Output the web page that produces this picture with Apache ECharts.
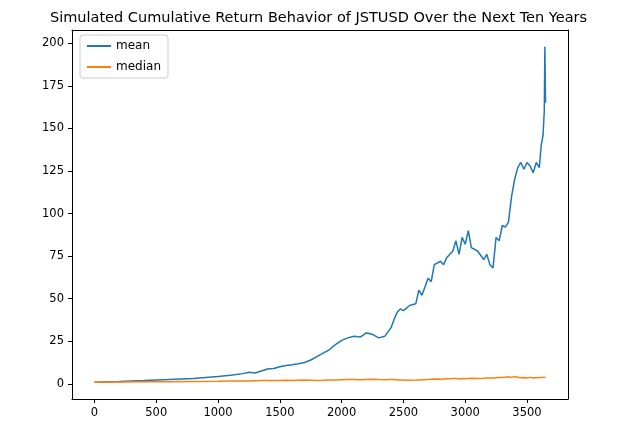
<!DOCTYPE html>
<html>
<head>
<meta charset="utf-8">
<script src="https://cdn.jsdelivr.net/npm/echarts@6/dist/echarts.min.js"></script>
<style>html,body{margin:0;padding:0;background:#fff}#main{width:637px;height:433px}</style>
</head>
<body>
<div id="main"></div>
<script>
// values (day, cumulative return)
var days = [0, 200, 400, 600, 800, 1000, 1100, 1200, 1250, 1300, 1350, 1400, 1450, 1500, 1550, 1600, 1650, 1700, 1750, 1800, 1850, 1900, 1950, 2000, 2050, 2100, 2150, 2200, 2250, 2300, 2350, 2400, 2425, 2450, 2475, 2500, 2550, 2600, 2625, 2650, 2700, 2725, 2750, 2800, 2825, 2850, 2900, 2925, 2950, 2975, 3000, 3025, 3050, 3100, 3150, 3175, 3200, 3225, 3250, 3275, 3300, 3325, 3350, 3375, 3400, 3425, 3450, 3475, 3500, 3525, 3550, 3575, 3600, 3615, 3630, 3640, 3645, 3650];
var meanVals = [1, 1.4, 1.9, 2.5, 3.2, 4.3, 5, 6, 6.8, 6.4, 7.5, 8.7, 9, 10, 10.8, 11.2, 11.8, 12.5, 14, 16, 18, 20, 23, 25.5, 27, 28, 27.5, 30, 29, 27, 28, 33, 38, 42, 44, 43, 46, 47, 55, 52, 62, 60, 70, 72, 70, 74, 78, 84, 76, 86, 82, 90, 80, 78, 73, 76, 70, 68, 86, 84, 93, 92, 95, 110, 120, 127, 130, 126, 130, 128, 124, 130, 127, 140, 146, 160, 198, 165];
var medianVals = [1, 1.1, 1.2, 1.3, 1.4, 1.5, 1.6, 1.6, 1.7, 1.8, 1.9, 1.9, 2.0, 2.0, 2.1, 2.0, 2.1, 2.2, 2.1, 2.0, 2.1, 2.3, 2.2, 2.4, 2.6, 2.5, 2.4, 2.6, 2.7, 2.5, 2.4, 2.6, 2.5, 2.3, 2.2, 2.3, 2.1, 2.2, 2.3, 2.4, 2.6, 2.7, 2.8, 2.7, 2.9, 3.0, 3.1, 3.2, 2.9, 3.1, 3.0, 3.2, 3.3, 3.2, 3.3, 3.4, 3.5, 3.4, 3.6, 3.8, 3.7, 3.9, 4.1, 3.8, 4.3, 3.9, 3.6, 3.7, 3.5, 3.8, 3.4, 3.6, 3.7, 3.6, 3.8, 3.9, 4.0, 3.9];
var xTicks = [0, 500, 1000, 1500, 2000, 2500, 3000, 3500];
var yTicks = [0, 25, 50, 75, 100, 125, 150, 175, 200];

function pairs(vals) {
  var out = [];
  for (var i = 0; i < days.length; i++) out.push([days[i], vals[i]]);
  return out;
}

var chart = echarts.init(document.getElementById('main'));
var font = 'DejaVu Sans';
var xMin = -182, xMax = 3832, yMin = -8.9, yMax = 207.8;
var plain = function (v) { return String(v); };
chart.setOption({
  animation: false,
  title: {
    text: 'Simulated Cumulative Return Behavior of JSTUSD Over the Next Ten Years',
    left: 'center', top: 6,
    textStyle: {fontFamily: font, fontSize: 14.5, fontWeight: 'normal', color: '#000'}
  },
  legend: {
    left: 80, top: 35, orient: 'vertical', itemWidth: 24, itemHeight: 2, itemGap: 9,
    backgroundColor: '#fff', borderColor: '#ccc', borderWidth: 1, borderRadius: 3,
    padding: [5, 7], textStyle: {fontFamily: font, fontSize: 12, color: '#000'},
    data: [{name: 'mean', icon: 'rect'}, {name: 'median', icon: 'rect'}]
  },
  grid: {left: 72, right: 69, top: 30, bottom: 34},
  xAxis: [{
    type: 'value', min: xMin, max: xMax, splitLine: {show: false},
    axisLine: {onZero: false, lineStyle: {color: '#000'}},
    axisTick: {show: true, customValues: xTicks, length: 4, lineStyle: {color: '#000'}},
    axisLabel: {customValues: xTicks, formatter: plain, fontFamily: font, fontSize: 11.5, color: '#000'}
  }, {
    type: 'value', position: 'top', min: xMin, max: xMax, splitLine: {show: false},
    axisLine: {show: true, onZero: false, lineStyle: {color: '#000'}},
    axisTick: {show: false}, axisLabel: {show: false}
  }],
  yAxis: [{
    type: 'value', min: yMin, max: yMax, splitLine: {show: false},
    axisLine: {show: true, onZero: false, lineStyle: {color: '#000'}},
    axisTick: {show: true, customValues: yTicks, length: 4, lineStyle: {color: '#000'}},
    axisLabel: {customValues: yTicks, formatter: plain, fontFamily: font, fontSize: 11.5, color: '#000'}
  }, {
    type: 'value', position: 'right', min: yMin, max: yMax, splitLine: {show: false},
    axisLine: {show: true, onZero: false, lineStyle: {color: '#000'}},
    axisTick: {show: false}, axisLabel: {show: false}
  }],
  series: [
    {name: 'mean', type: 'line', showSymbol: false, data: pairs(meanVals),
     itemStyle: {color: '#1f77b4'}, lineStyle: {color: '#1f77b4', width: 1.5}},
    {name: 'median', type: 'line', showSymbol: false, data: pairs(medianVals),
     itemStyle: {color: '#ff7f0e'}, lineStyle: {color: '#ff7f0e', width: 1.5}}
  ]
});
</script>
</body>
</html>
